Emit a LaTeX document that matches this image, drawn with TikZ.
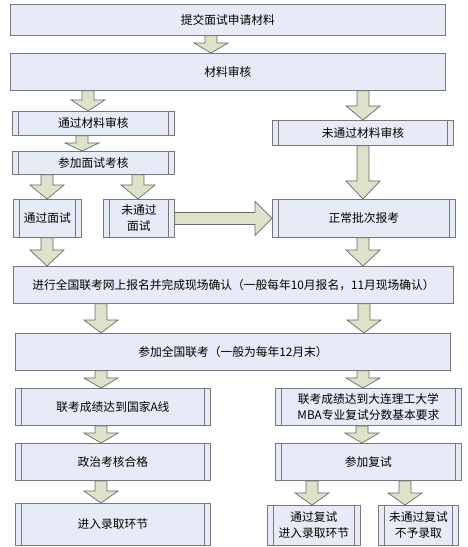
\documentclass[tikz,border=0pt]{standalone}
\usepackage{fontspec}
\newfontfamily\cjk{Noto Sans CJK SC}
\usepackage{tikz}
\usetikzlibrary{calc}
\usepackage{xcolor}
\definecolor{boxfill}{RGB}{231,235,247}
\definecolor{boxline}{RGB}{120,120,124}
\definecolor{arrfill}{RGB}{222,226,202}
\definecolor{arrline}{RGB}{105,105,100}

\tikzset{
  box/.style={draw=boxline, fill=boxfill, line width=0.9pt, inner sep=0pt, anchor=north west,
    align=center, font=\cjk\fontsize{11.8}{16}\selectfont},
  proc/.style={box, path picture={
    \draw[boxline, line width=0.9pt]
      ([xshift=6bp]path picture bounding box.north west) -- ([xshift=6bp]path picture bounding box.south west)
      ([xshift=-6bp]path picture bounding box.north east) -- ([xshift=-6bp]path picture bounding box.south east);}},
  blockarr/.style={draw=arrline, fill=arrfill, line width=0.7pt, line join=miter},
}

% block arrow down: column x, from node, to node, head length
\newcommand{\blockdown}[4]{%
  \draw[blockarr] let \p1=(#1,0 |- #2.south), \p2=(#1,0 |- #3.north) in
    ([xshift=-6bp]\p1) -- ([xshift=6bp]\p1) -- ([xshift=6bp,yshift=#4bp]\p2)
    -- ([xshift=17bp,yshift=#4bp]\p2) -- (\p2) -- ([xshift=-17bp,yshift=#4bp]\p2)
    -- ([xshift=-6bp,yshift=#4bp]\p2) -- cycle;}

\begin{document}
\begin{tikzpicture}[x=1bp, y=-1bp]
  \useasboundingbox (0,0) rectangle (468,547);

  % boxes
  \node[box, minimum width=435bp, minimum height=31bp] (apply) at (10,4) {提交面试申请材料};
  \node[box, minimum width=435bp, minimum height=37bp] (review) at (10,53) {材料审核};
  \node[proc, minimum width=162bp, minimum height=24bp] (passrev) at (12,111) {通过材料审核};
  \node[proc, minimum width=181bp, minimum height=25bp] (failrev) at (272,120) {未通过材料审核};
  \node[proc, minimum width=162bp, minimum height=23bp] (interview) at (12,151) {参加面试考核};
  \node[proc, minimum width=68bp, minimum height=38bp] (passint) at (13,199) {通过面试};
  \node[proc, minimum width=71bp, minimum height=38bp] (failint) at (103,199) {未通过\\面试};
  \node[proc, minimum width=183bp, minimum height=38bp] (normal) at (272,199) {正常批次报考};
  \node[box, minimum width=440bp, minimum height=37bp] (signup) at (13,266)
    {进行全国联考网上报名并完成现场确认（一般每年10月报名，11月现场确认）};
  \node[box, minimum width=435bp, minimum height=37bp] (exam) at (15,333) {参加全国联考（一般为每年12月末）};
  \node[proc, minimum width=195bp, minimum height=37bp] (aline) at (15,388) {联考成绩达到国家A线};
  \node[proc, minimum width=186bp, minimum height=37bp] (dlut) at (275,388) {联考成绩达到大连理工大学\\MBA专业复试分数基本要求};
  \node[proc, minimum width=195bp, minimum height=37bp] (politic) at (15,443) {政治考核合格};
  \node[proc, minimum width=186bp, minimum height=37bp] (retest) at (275,443) {参加复试};
  \node[proc, minimum width=195bp, minimum height=42bp] (admit) at (15,503) {进入录取环节};
  \node[proc, minimum width=93bp, minimum height=40bp] (passre) at (267,505) {通过复试\\进入录取环节};
  \node[proc, minimum width=80bp, minimum height=40bp] (failre) at (378,505) {未通过复试\\不予录取};

  % arrows
  \blockdown{211}{apply}{review}{10}
  \blockdown{88}{review}{passrev}{11}
  \blockdown{363}{review}{failrev}{14}
  \blockdown{82}{passrev}{interview}{8}
  \blockdown{47}{interview}{passint}{14}
  \blockdown{138}{interview}{failint}{14}
  \blockdown{363}{failrev}{normal}{18}
  \blockdown{47}{passint}{signup}{16}
  \blockdown{363}{normal}{signup}{16}
  \blockdown{101}{signup}{exam}{13}
  \blockdown{364}{signup}{exam}{13}
  \blockdown{101}{exam}{aline}{10}
  \blockdown{363}{exam}{dlut}{10}
  \blockdown{101}{aline}{politic}{10}
  \blockdown{362}{dlut}{retest}{10}
  \blockdown{101}{politic}{admit}{12}
  \blockdown{312}{retest}{passre}{12}
  \blockdown{405}{retest}{failre}{12}
  \draw[blockarr] let \p1=(failint.east), \p2=(normal.west) in
    ([yshift=6bp]\p1) -- ([xshift=-17bp,yshift=6bp]\p2) -- ([xshift=-17bp,yshift=17bp]\p2)
    -- (\p2) -- ([xshift=-17bp,yshift=-17bp]\p2) -- ([xshift=-17bp,yshift=-6bp]\p2)
    -- ([yshift=-6bp]\p1) -- cycle;
\end{tikzpicture}
\end{document}
